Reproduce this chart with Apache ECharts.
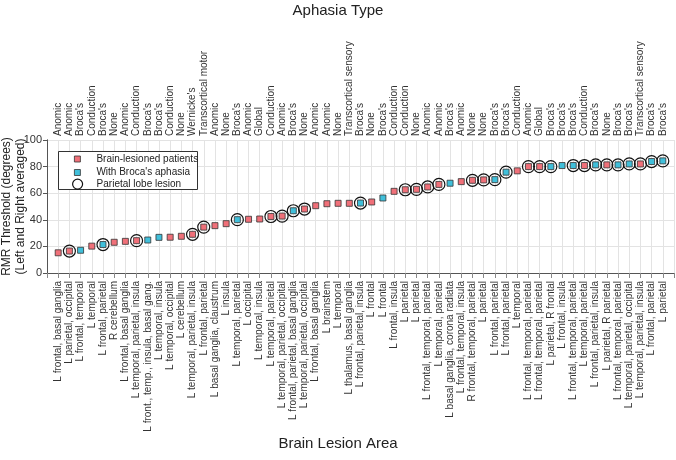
<!DOCTYPE html>
<html>
<head>
<meta charset="utf-8">
<script src="https://cdn.jsdelivr.net/npm/echarts@6/dist/echarts.min.js"></script>
<style>html,body{margin:0;padding:0;background:#fff;}#c{width:676px;height:460px;}</style>
</head>
<body>
<div id="c"></div>
<script>
const lesionAreas = [
  "L frontal, basal ganglia","L parietal, occipital","L frontal, temporal","L temporal","L frontal, parietal",
  "R cerebellum","L frontal, basal ganglia","L temporal, parietal, insula","L front., temp., insula, basal gang.","L temporal, insula",
  "L temporal, occipital","L cerebellum","L temporal, parietal, insula","L frontal, parietal","L basal ganglia, claustrum",
  "L insula","L temporal, parietal","L occipital","L temporal, insula","L temporal, parietal",
  "L temporal, parietal, occipital","L frontal, parietal, basal ganglia","L temporal, parietal, occipital","L frontal, basal ganglia","L brainstem",
  "L temporal","L thalamus, basal ganglia","L frontal, parietal, insula","L frontal","L frontal",
  "L frontal, insula","L parietal","L parietal","L frontal, temporal, parietal","L temporal, parietal",
  "L basal ganglia, corona radiata","L frontal, temporal, insula","R frontal, temporal, parietal","L parietal","L frontal, parietal",
  "L frontal, parietal","L temporal","L frontal, temporal, parietal","L frontal, temporal, parietal","L parietal, R frontal",
  "L frontal, insula","L frontal, temporal, parietal","L temporal, parietal","L frontal, parietal, insula","L parietal, R parietal",
  "L frontal, temporal, parietal","L temporal, parietal, occipital","L temporal, parietal, insula","L frontal, parietal","L parietal"
];
const aphasiaTypes = [
  "Anomic","Anomic","Broca's","Conduction","Broca's","None","Anomic","Conduction","Broca's","Broca's",
  "Conduction","None","Wernicke's","Transcortical motor","Anomic","None","Broca's","Anomic","Global","Conduction",
  "Anomic","Broca's","None","Anomic","Anomic","None","Transcortical sensory","Broca's","None","Broca's",
  "Conduction","Conduction","None","Anomic","Anomic","Broca's","Anomic","None","None","Broca's",
  "Broca's","Conduction","Anomic","Global","Broca's","Broca's","Broca's","Conduction","Broca's","None",
  "Broca's","Broca's","Transcortical sensory","Broca's","Broca's"
];
const rmrThreshold = [
  15.2,16.5,17.1,20.2,21.4,23.1,23.8,24.3,24.8,26.8,
  26.9,27.6,29.1,34.5,35.6,37.1,40.1,40.4,40.6,42.5,
  42.8,46.8,48.1,50.6,52.1,52.4,52.4,52.6,53.4,56.4,
  61.4,62.6,62.9,64.7,66.6,67.5,68.7,69.7,70.0,70.2,
  75.8,76.8,80.0,80.0,80.0,80.8,80.8,80.8,81.3,81.3,
  81.3,82.0,82.0,83.8,84.3
];
const yTicks = [0,20,40,60,80,100];

const FONT = "Liberation Sans, Arial, sans-serif";
const RED = "#F07079", BLUE = "#40BFDA";
const isBroca = aphasiaTypes.map(a => a === "Broca's");
const isParietal = lesionAreas.map(l => /parietal/.test(l));
const redData = [], blueData = [], circData = [];
rmrThreshold.forEach((v, i) => {
  if (isBroca[i]) blueData.push([i + 1, v]); else redData.push([i + 1, v]);
  if (isParietal[i]) circData.push([i + 1, v]);
});
const N = rmrThreshold.length;

const chart = echarts.init(document.getElementById('c'), null, {renderer: 'canvas'});
const axisCol = '#555', gridCol = '#e3e3e3', txtCol = '#333';
const legendBase = {
  orient: 'vertical', left: 74, itemWidth: 6, itemHeight: 6, padding: 0,
  textStyle: {fontFamily: FONT, fontSize: 10, color: '#222', padding: [0, 0, 0, 11]},
  selectedMode: false
};
chart.setOption({
  animation: false,
  textStyle: {fontFamily: FONT},
  title: [
    {text: 'Aphasia Type', left: 'center', top: -2, textStyle: {fontFamily: FONT, fontSize: 15, fontWeight: 'normal', color: '#222'}},
    {text: 'Brain Lesion Area', left: 'center', top: 431, textStyle: {fontFamily: FONT, fontSize: 15, fontWeight: 'normal', color: '#222'}}
  ],
  grid: {left: 47, right: 2, top: 140, bottom: 187, containLabel: false, outerBoundsMode: 'none'},
  graphic: [{type: 'rect', z: 3, shape: {x: 58.5, y: 151.5, width: 139, height: 38}, style: {fill: '#fff', stroke: '#333', lineWidth: 1}}],
  legend: [
    Object.assign({}, legendBase, {top: 154, data: [{name: 'Brain-lesioned patients', icon: 'rect', itemStyle: {color: RED, borderColor: '#333', borderWidth: 0.8}}]}),
    Object.assign({}, legendBase, {top: 167.5, data: [{name: "With Broca's aphasia", icon: 'rect', itemStyle: {color: BLUE, borderColor: '#333', borderWidth: 0.8}}]}),
    Object.assign({}, legendBase, {left: 72, top: 178.5, itemWidth: 10, itemHeight: 10, textStyle: {fontFamily: FONT, fontSize: 10, color: '#222', padding: [0, 0, 0, 9]},
      data: [{name: 'Parietal lobe lesion', icon: 'circle', itemStyle: {color: 'rgba(0,0,0,0)', borderColor: '#111', borderWidth: 1.2}}]})
  ],
  xAxis: [
    {
      type: 'value', position: 'bottom', min: 0, max: N + 1, interval: 1,
      axisLine: {show: true, lineStyle: {color: axisCol}},
      axisTick: {show: true, inside: false, length: 5, lineStyle: {color: '#888'}},
      splitLine: {show: true, lineStyle: {color: gridCol}},
      axisLabel: {rotate: 90, margin: 8, fontSize: 10, color: txtCol, fontFamily: FONT,
        formatter: v => (v >= 1 && v <= N && Number.isInteger(v)) ? lesionAreas[v - 1] : ''}
    },
    {
      type: 'value', position: 'top', min: 0, max: N + 1, interval: 1,
      axisLine: {show: true, lineStyle: {color: axisCol}},
      axisTick: {show: true, inside: true, length: 5, lineStyle: {color: '#888'}},
      splitLine: {show: false},
      axisLabel: {rotate: 90, margin: 4, fontSize: 10, color: txtCol, fontFamily: FONT,
        formatter: v => (v >= 1 && v <= N && Number.isInteger(v)) ? aphasiaTypes[v - 1] : ''}
    }
  ],
  yAxis: [
    {
      type: 'value', min: yTicks[0], max: yTicks[yTicks.length - 1], interval: 20, position: 'left',
      name: 'RMR Threshold (degrees)\n(Left and Right averaged)', nameLocation: 'middle', nameGap: 19,
      nameMoveOverlap: false,
      nameTextStyle: {fontFamily: FONT, fontSize: 12, color: '#222', lineHeight: 14.5},
      axisLine: {show: true, lineStyle: {color: axisCol}},
      axisTick: {show: true, inside: false, length: 4, lineStyle: {color: axisCol}},
      splitLine: {show: true, lineStyle: {color: gridCol}},
      axisLabel: {margin: 5, fontSize: 11, color: txtCol, fontFamily: FONT}
    },
    {
      type: 'value', min: yTicks[0], max: yTicks[yTicks.length - 1], interval: 20, position: 'right',
      axisLine: {show: true, lineStyle: {color: axisCol}},
      axisTick: {show: true, inside: true, length: 4, lineStyle: {color: axisCol}},
      splitLine: {show: false},
      axisLabel: {show: false}
    }
  ],
  series: [
    {name: 'Brain-lesioned patients', type: 'scatter', symbol: 'rect', symbolSize: 6, z: 3,
      itemStyle: {color: RED, borderColor: '#333', borderWidth: 0.8, opacity: 1}, data: redData},
    {name: "With Broca's aphasia", type: 'scatter', symbol: 'rect', symbolSize: 6, z: 3,
      itemStyle: {color: BLUE, borderColor: '#333', borderWidth: 0.8, opacity: 1}, data: blueData},
    {name: 'Parietal lobe lesion', type: 'scatter', symbol: 'circle', symbolSize: 12, z: 4,
      itemStyle: {color: 'rgba(0,0,0,0)', borderColor: '#111', borderWidth: 1.2, opacity: 1}, data: circData}
  ]
});
</script>
</body>
</html>
